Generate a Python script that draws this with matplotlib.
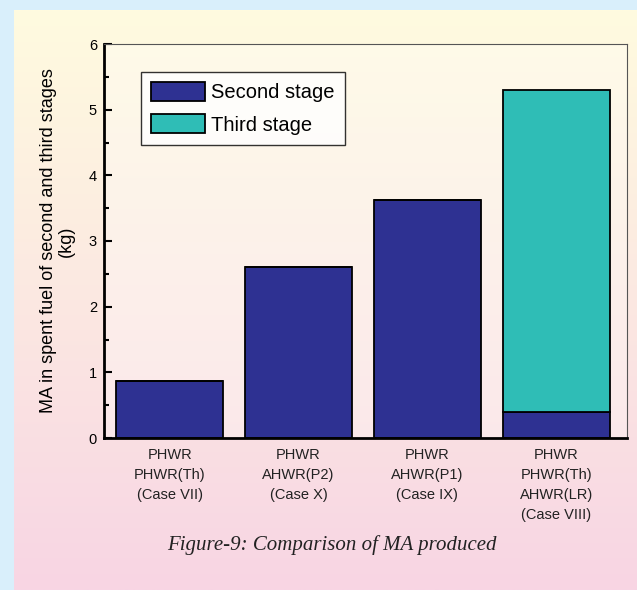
import numpy as np
import matplotlib
matplotlib.use('Agg')
import matplotlib.pyplot as plt
from matplotlib.ticker import MultipleLocator

# data
cases = ['PHWR\nPHWR(Th)\n(Case VII)', 'PHWR\nAHWR(P2)\n(Case X)',
         'PHWR\nAHWR(P1)\n(Case IX)', 'PHWR\nPHWR(Th)\nAHWR(LR)\n(Case VIII)']
second_stage = [0.87, 2.60, 3.62, 0.40]
third_stage = [0.0, 0.0, 0.0, 4.90]

fig = plt.figure(figsize=(6.37, 5.90), dpi=100)
fig.patch.set_facecolor('#d9effb')

# panel with vertical yellow -> pink gradient
bg = fig.add_axes([14 / 637, 0, 1 - 14 / 637, 1 - 10 / 590], zorder=-10)
top = np.array([255, 251, 223]) / 255
bot = np.array([248, 213, 228]) / 255
t = np.linspace(0, 1, 256)[:, None]
grad = top[None, :] * (1 - t) + bot[None, :] * t
bg.imshow(grad[:, None, :], aspect='auto', extent=[0, 1, 0, 1])
bg.axis('off')

ax = fig.add_axes([104 / 637, 1 - 438 / 590, (627 - 104) / 637, (438 - 44) / 590])
ax.set_facecolor((1, 1, 1, 0.3))

x = np.arange(len(cases))
ax.bar(x, second_stage, width=0.83, color='#2e3192', edgecolor='black',
       linewidth=1.3, label='Second stage')
ax.bar(x, third_stage, width=0.83, bottom=second_stage, color='#2fbdb6',
       edgecolor='black', linewidth=1.3, label='Third stage')

ax.set_xlim(-0.51, 3.55)
ax.set_ylim(0, 6)
ax.yaxis.set_major_locator(MultipleLocator(1))
ax.yaxis.set_minor_locator(MultipleLocator(0.5))
ax.tick_params(axis='y', which='major', direction='in', length=6, width=1.5,
               labelsize=10.5, pad=5)
ax.tick_params(axis='y', which='minor', direction='in', length=3.5, width=1.5)
ax.tick_params(axis='x', length=0, pad=7)
ax.set_xticks(x)
ax.set_xticklabels(cases, fontsize=10.5, linespacing=1.55,
                   family='Liberation Sans', color='#222222')

for s in ['left', 'bottom']:
    ax.spines[s].set_linewidth(2)
for s in ['top', 'right']:
    ax.spines[s].set_linewidth(0.8)
    ax.spines[s].set_color('#555555')

ax.set_ylabel('MA in spent fuel of second and third stages\n(kg)', fontsize=13,
              labelpad=10, family='Liberation Sans', linespacing=1.1)
for lbl in ax.get_yticklabels():
    lbl.set_family('Liberation Sans')

leg = ax.legend(loc='upper left', bbox_to_anchor=(0.0707, 0.929),
                frameon=True, fancybox=False, edgecolor='black',
                handlelength=2.7, handleheight=1.05, handletextpad=0.3,
                labelspacing=0.6, borderpad=0.5, borderaxespad=0,
                prop={'family': 'Liberation Sans', 'size': 14.5})
leg.get_frame().set_linewidth(1)
leg.get_frame().set_facecolor('white')

fig.text(332 / 637, 1 - 545 / 590, 'Figure-9: Comparison of MA produced',
         ha='center', va='center', fontsize=15, style='italic',
         family='Liberation Serif', color='#222222')

fig.savefig('out.png', dpi=100, facecolor=fig.get_facecolor())
